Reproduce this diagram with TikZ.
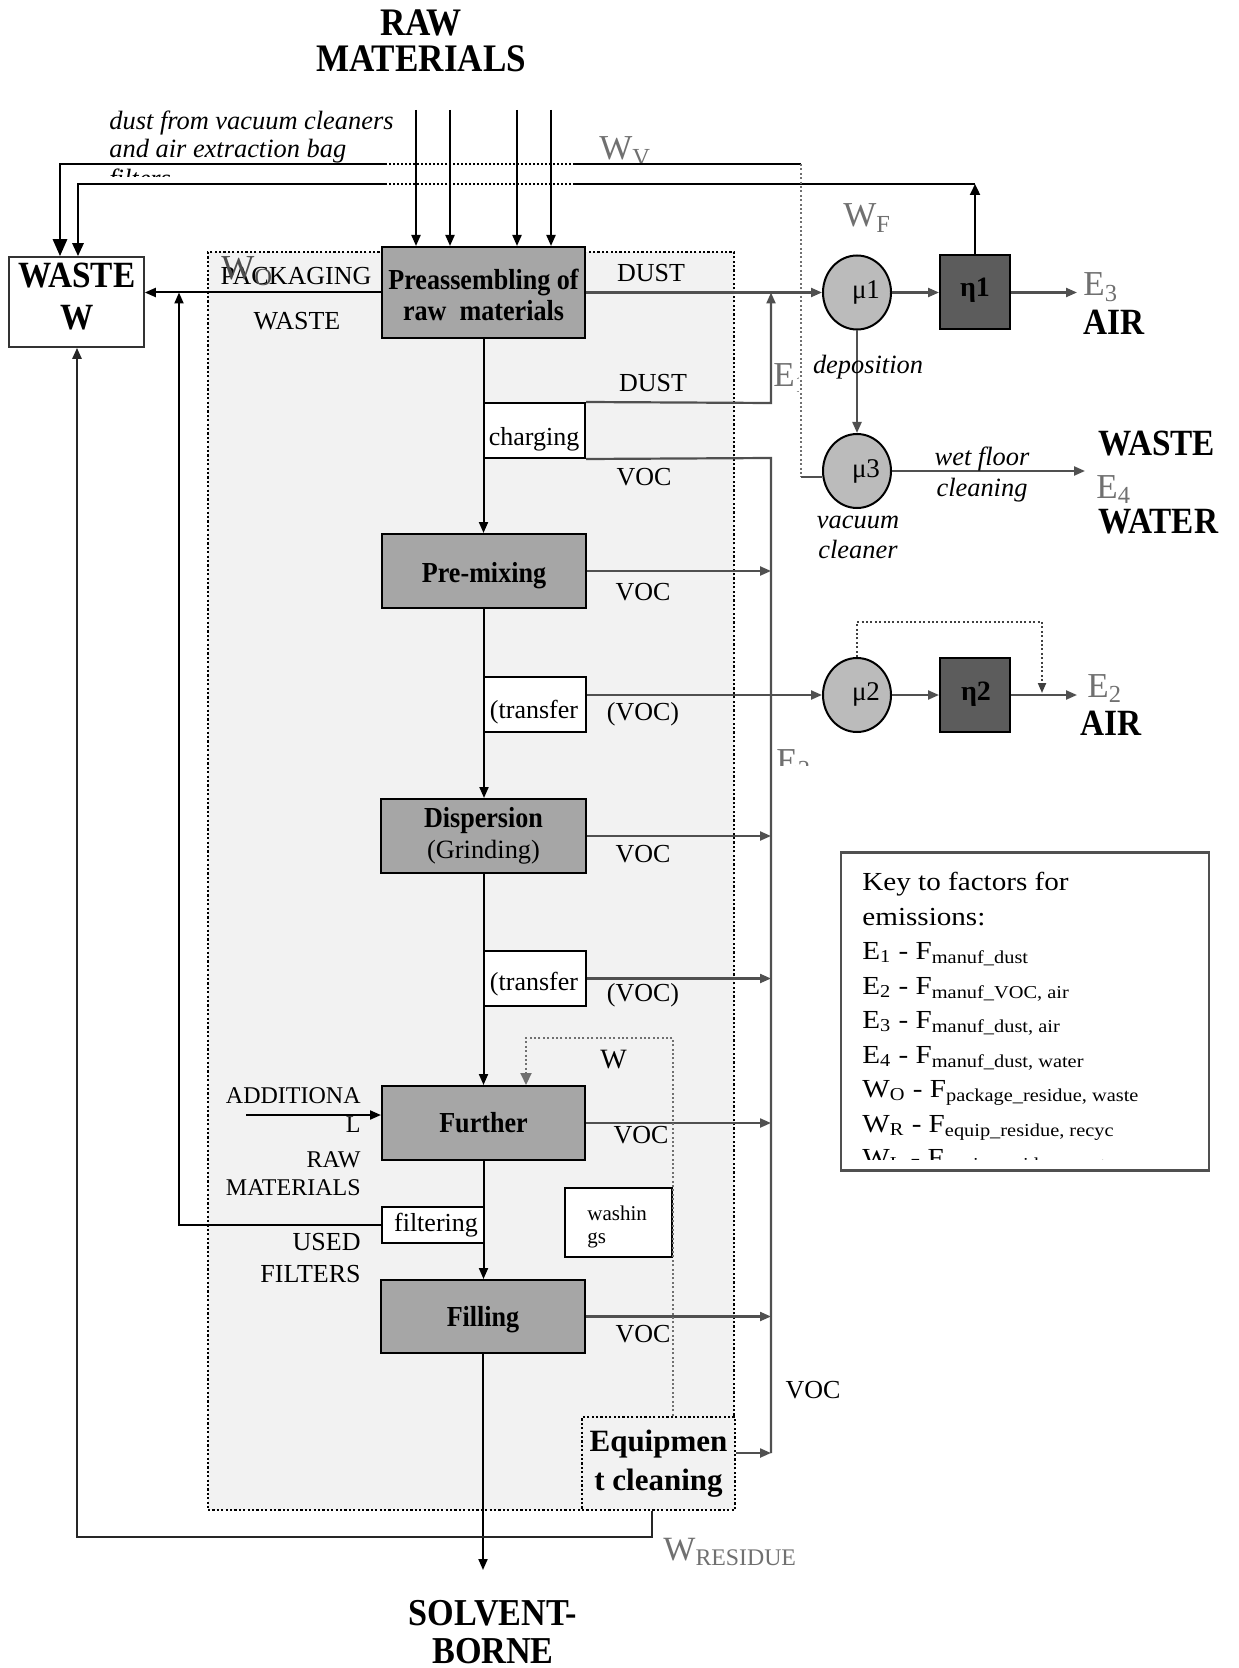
\documentclass[tikz,border=0pt]{standalone}
\usepackage{fontspec}
\setmainfont{Liberation Serif}
\newfontfamily\bcf{Liberation Serif}[FakeStretch=0.9]
\newfontfamily\keyf{Liberation Serif}[FakeStretch=1.12]
\usetikzlibrary{arrows.meta,shapes.geometric,calc}
\definecolor{regfill}{RGB}{242,242,242}
\definecolor{boxfill}{RGB}{166,166,166}
\definecolor{mufill}{RGB}{187,187,187}
\definecolor{etafill}{RGB}{92,92,92}
\definecolor{lgray}{RGB}{80,80,80}
\definecolor{tgray}{RGB}{112,112,112}
\newcommand\fsz[2]{\fontsize{#1}{#2}\selectfont}
\tikzset{
  proc/.style={draw=black, line width=1pt, fill=boxfill, inner sep=0pt, align=center, font=\bcf\bfseries\fsz{14.5}{15.5}},
  sbox/.style={draw=black, line width=1pt, fill=white, inner sep=0pt, minimum width=51pt, minimum height=27.5pt},
  muell/.style={ellipse, draw=black, line width=1pt, fill=mufill, inner sep=0pt, minimum width=34pt, minimum height=37pt},
  etabox/.style={draw=black, line width=1pt, fill=etafill, inner sep=0pt, minimum width=35pt, minimum height=37pt},
  txt/.style={inner sep=0pt, font=\fsz{13}{15}},
  gtxt/.style={inner sep=0pt, text=tgray, font=\fsz{17.5}{18}},
  bigb/.style={inner sep=0pt, font=\bcf\bfseries\fsz{18.5}{20}},
  itx/.style={inner sep=0pt, font=\itshape\fsz{13.2}{15}},
  keyt/.style={inner sep=0pt, anchor=base west, font=\keyf\fsz{13}{15}},
  gline/.style={draw=lgray, line width=1.1pt},
  garr/.style={gline, -{Triangle[length=5.5pt,width=4.5pt]}},
  barr/.style={draw=black, line width=1pt, -{Triangle[length=5.5pt,width=4.5pt]}},
  thk/.style={draw=black, line width=1.4pt},
  gdot/.style={draw=tgray, line width=0.8pt, dash pattern=on 1pt off 1.2pt},
}
\begin{document}
\begin{tikzpicture}[x=0.5pt,y=-0.5pt]
\useasboundingbox (0,0) rectangle (1238,1668);

% ---------- region ----------
\node[draw=black, line width=1.1pt, dash pattern=on 1.1pt off 1.1pt, fill=regfill, minimum width=263pt, minimum height=629pt, inner sep=0pt] (region) at (471,881) {};

% ---------- boxes ----------
\node[proc, minimum width=101.5pt, minimum height=45.5pt] (pre) at (483.5,292.5) {};
\node[draw=black!80, line width=0.8pt, fill=white, minimum width=67.5pt, minimum height=45pt, inner sep=0pt] (waste) at (76.5,302) {};
\node[sbox, minimum width=50.5pt] (chg) at (534.5,430.5) {};
\node[proc, minimum width=102pt, minimum height=37pt] (premix) at (484,571) {};
\node[sbox] (tr1) at (535,704.5) {};
\node[proc, minimum width=102.5pt, minimum height=37pt] (disp) at (483.5,836) {Dispersion\\{\normalfont\fsz{13.2}{15.5}(Grinding)}};
\node[sbox] (tr2) at (535,978.5) {};
\node[proc, minimum width=101.5pt, minimum height=37pt] (further) at (483.5,1123) {Further};
\node[sbox, minimum width=51pt, minimum height=18pt] (filt) at (433,1225) {};
\node[proc, minimum width=102pt, minimum height=36.5pt] (filling) at (483,1316.5) {};
\node[draw=black, line width=0.8pt, fill=white, minimum width=53.5pt, minimum height=34.5pt, inner sep=0pt] (wash) at (618.5,1222.5) {};
\node[draw=black, line width=1.3pt, dash pattern=on 1.1pt off 1.1pt, fill=regfill, minimum width=76.5pt, minimum height=46.5pt, inner sep=0pt, align=center, font=\bfseries\fsz{15.5}{19.5}] (equip) at (658.5,1463.5) {Equipmen\\t cleaning};

\node[muell] (mu1) at (857,292.5) {};
\node[muell] (mu3) at (857,471) {};
\node[muell] (mu2) at (857,695) {};
\node[etabox] (eta1) at (975,292.5) {};
\node[etabox] (eta2) at (975,695) {};
\node[draw=lgray, line width=1.3pt, fill=white, minimum width=184pt, minimum height=159pt, inner sep=0pt] (key) at (1025,1011.5) {};

% box labels placed at their measured baselines
\node[inner sep=0pt, anchor=base, font=\bcf\bfseries\fsz{14.5}{16}] (tpre1) at (483.5,290) {Preassembling of};
\node[inner sep=0pt, anchor=base, font=\bcf\bfseries\fsz{14.5}{16}] (tpre2) at (483.5,321) {raw~ materials};
\node[inner sep=0pt, anchor=base, font=\bcf\bfseries\fsz{14.5}{16}] (tpremix) at (484,582) {Pre-mixing};
\node[inner sep=0pt, anchor=base, font=\bcf\bfseries\fsz{14.5}{16}] (tfilling) at (483,1326) {Filling};

% ---------- raw material arrows ----------
\foreach \xx [count=\i] in {416,450,517,551} {
  \coordinate (r\i) at (\xx,110);
  \draw[barr] (r\i) -- (r\i |- pre.north);
}

% ---------- main chain ----------
\draw[barr] (pre.south) -- (pre.south |- premix.north);
\draw[barr] (premix.south) -- (premix.south |- disp.north);
\draw[barr] (disp.south) -- (disp.south |- further.north);
\draw[barr] (further.south) -- (further.south |- filling.north);
\coordinate (prodend) at (483,1570);
\draw[barr] (filling.south) -- (prodend);

% ---------- top waste lines ----------
\coordinate (la) at (801,164);
\coordinate (lad1) at (575,164);
\coordinate (lad2) at (386,164);
\coordinate (lacor) at (60,164);
\draw[thk] (la) -- (lad1);
\draw[thk, dash pattern=on 1pt off 1pt] (lad1) -- (lad2);
\draw[thk, -{Triangle[length=8.5pt,width=7pt]}] (lad2) -- (lacor) -- (lacor |- waste.north);

\coordinate (lb) at (975,184);
\coordinate (lbd1) at (575,184);
\coordinate (lbd2) at (386,184);
\coordinate (lbcor) at (78,184);
\draw[draw=black, line width=1.1pt, -{Triangle[length=5.5pt,width=5pt]}] (eta1.north) -- (lb);
\draw[thk] (lb) -- (lbd1);
\draw[thk, dash pattern=on 1pt off 1pt] (lbd1) -- (lbd2);
\draw[thk, -{Triangle[length=6.5pt,width=5.5pt]}] (lbd2) -- (lbcor) -- (lbcor |- waste.north);

% vacuum cleaner -> W_V
\draw[gdot] (la) -- (la |- mu3.190);
\draw[gline] (la |- mu3.190) -- (mu3.190);

% ---------- waste arrows ----------
\draw[barr] (pre.west) -- (pre.west -| waste.east);
\coordinate (fcor) at (179,1225);
\draw[barr] (filt.west) -- (fcor) -- (fcor |- pre.west);
\coordinate (wr1) at (652,1537);
\coordinate (wr2) at (77,1537);
\draw[draw=black!85, line width=1.2pt, -{Triangle[length=5.5pt,width=4.5pt]}] (equip.south -| wr1) -- (wr1) -- (wr2) -- (wr2 |- waste.south);
\coordinate (addin) at (246,1115);
\draw[barr] (addin) -- (addin -| further.west);

% ---------- dust / VOC lines ----------
\draw[garr] (pre.east) -- (mu1.west);
\coordinate (e1c) at (771,403);
\draw[garr] (chg.north east) -- (e1c) -- (e1c |- pre.east);
\coordinate (colltop) at (771,458);
\coordinate (collbot) at (771,1453);
\draw[gline] (chg.south east) -- (colltop) -- (collbot);
\draw[garr] (premix.east) -- (premix.east -| colltop);
\draw[garr] (tr1.east |- mu2.west) -- (mu2.west);
\draw[garr] (disp.east) -- (disp.east -| colltop);
\draw[garr] (tr2.east) -- (tr2.east -| colltop);
\draw[garr] (further.east) -- (further.east -| colltop);
\draw[garr] (filling.east) -- (filling.east -| colltop);
\draw[garr] (equip.east |- collbot) -- (collbot);

% ---------- treatment ----------
\draw[garr] (mu1.east) -- (eta1.west);
\coordinate (e3end) at (1077,292.5);
\draw[garr] (eta1.east) -- (e3end);
\draw[garr] (mu1.south) -- (mu3.north);
\coordinate (e4end) at (1085,471);
\draw[garr] (mu3.east) -- (e4end);
\draw[garr] (mu2.east) -- (eta2.west);
\coordinate (e2end) at (1077,695);
\draw[garr] (eta2.east) -- (e2end);
\coordinate (lp1) at (857,622);
\coordinate (lp2) at (1042,622);
\coordinate (lp3) at (1042,693);
\draw[draw=black!75, line width=1pt, dash pattern=on 1pt off 1.2pt, -{Triangle[length=5pt,width=4pt]}] (mu2.north) -- (lp1) -- (lp2) -- (lp3);

% W loop (equipment cleaning -> further)
\coordinate (wl1) at (673,1038);
\coordinate (wl2) at (526,1038);
\draw[gdot, line width=1pt, -{Triangle[length=6pt,width=5.5pt]}] (equip.north -| wl1) -- (wl1) -- (wl2) -- (wl2 |- further.north);

% ---------- texts ----------
\node[bigb, anchor=base, font=\bcf\bfseries\fsz{19.5}{20}] (tRaw) at (421,36) {RAW};
\node[bigb, anchor=base, font=\bcf\bfseries\fsz{19.5}{20}] (tMat) at (421,72) {MATERIALS};
\node[itx, anchor=base west] (it1) at (109,130) {dust from vacuum cleaners};
\node[itx, anchor=base west] (it2) at (109,158) {and air extraction bag};
\begin{scope}
\clip (100,160) rectangle (400,177);
\node[itx, anchor=base west] (it3) at (109,188) {filters};
\end{scope}

\begin{scope}
\clip (590,120) rectangle (700,163);
\node[gtxt, anchor=base west] (tWV) at (599,160) {W\textsubscript{V}};
\end{scope}
\node[gtxt, anchor=base west] (tWF) at (843,227) {W\textsubscript{F}};
\begin{scope}
\clip (760,340) rectangle (798,400);
\node[gtxt, anchor=base west] (tE1) at (773,387) {E\textsubscript{1}};
\end{scope}
\begin{scope}
\clip (760,735) rectangle (815,765);
\node[gtxt, anchor=base west] (tE2a) at (776,772) {E\textsubscript{2}};
\end{scope}

\node[bigb, anchor=base] (tWst) at (77,288) {WASTE};
\node[bigb, anchor=base] (tW) at (77,330) {W};

\node[txt, anchor=base] (tPack) at (296,285) {PACKAGING};
\node[txt, anchor=base] (tPW) at (297,330) {WASTE};
\node[gtxt, anchor=base west, text=black!70] (tWO) at (221,280) {W\textsubscript{O}};

\node[txt, anchor=base] (tD1) at (651,282) {DUST};
\node[txt, anchor=base] (tD2) at (653,392) {DUST};
\node[txt, anchor=base] (tV1) at (644,485) {VOC};
\node[txt, anchor=base] (tV2) at (643,600) {VOC};
\node[txt, anchor=base] (tV3) at (643,720) {(VOC)};
\node[txt, anchor=base] (tV4) at (643,862) {VOC};
\node[txt, anchor=base] (tV5) at (643,1001) {(VOC)};
\node[txt, anchor=base] (tV6) at (641,1143) {VOC};
\node[txt, anchor=base] (tV7) at (643,1342) {VOC};
\node[txt, anchor=base] (tV8) at (813,1398) {VOC};

\node[txt, anchor=base] (tchg) at (534,445) {charging};
\node[txt, anchor=base] (ttr1) at (534,718) {(transfer};
\node[txt, anchor=base] (ttr2) at (534,990) {(transfer};
\node[txt, anchor=base] (tfilt) at (436,1231) {filtering};
\node[inner sep=0pt, anchor=base west, font=\fsz{10.5}{12}] (twa1) at (587,1220) {washin};
\node[inner sep=0pt, anchor=base west, font=\fsz{10.5}{12}] (twa2) at (587,1243) {gs};
\node[inner sep=0pt, anchor=base west, font=\fsz{14}{15}] (tWR) at (600,1068) {W};

\node[inner sep=0pt, anchor=base east, font=\fsz{12}{14}] (tAdd) at (361,1103) {ADDITIONA};
\node[inner sep=0pt, anchor=base east, font=\fsz{12}{14}] (tAddL) at (361,1132) {L};
\node[inner sep=0pt, anchor=base east, font=\fsz{12}{14}] (tAddR) at (361,1167) {RAW};
\node[inner sep=0pt, anchor=base east, font=\fsz{12}{14}] (tAddM) at (361,1195) {MATERIALS};
\node[txt, anchor=base east] (tUsed) at (361,1250) {USED};
\node[txt, anchor=base east] (tFilt) at (361,1282) {FILTERS};

\node[gtxt, anchor=base west, font=\fsz{17}{18}] (tWres) at (663,1560) {W\textsubscript{RESIDUE}};
\node[bigb, anchor=base, font=\bcf\bfseries\fsz{19}{20}] (tSolv) at (493,1625) {SOLVENT-};
\node[bigb, anchor=base, font=\bcf\bfseries\fsz{19}{20}] (tBorne) at (493,1663) {BORNE};

\node[inner sep=0pt, anchor=base, font=\fsz{13.5}{15}] (tmu1) at (866,299) {μ1};
\node[inner sep=0pt, anchor=base, font=\fsz{13.5}{15}] (tmu3) at (866,477) {μ3};
\node[inner sep=0pt, anchor=base, font=\fsz{13.5}{15}] (tmu2) at (866,700) {μ2};
\node[inner sep=0pt, anchor=base, font=\bfseries\fsz{14}{15}] (teta1) at (975,297) {η1};
\node[inner sep=0pt, anchor=base, font=\bfseries\fsz{14}{15}] (teta2) at (976,700) {η2};

\node[itx, anchor=base] (tdep) at (868,374) {deposition};
\node[itx, anchor=base] (twet) at (982,466) {wet floor};
\node[itx, anchor=base] (tcln) at (982,496) {cleaning};
\node[itx, anchor=base] (tvac) at (858,528) {vacuum};
\node[itx, anchor=base] (tclr) at (858,558) {cleaner};

\node[gtxt, anchor=base west] (tE3) at (1083,296) {E\textsubscript{3}};
\node[bigb, anchor=base west] (tAir1) at (1083,335) {AIR};
\node[bigb, anchor=base west] (tWst2) at (1098,455) {WASTE};
\node[gtxt, anchor=base west] (tE4) at (1096,498) {E\textsubscript{4}};
\node[bigb, anchor=base west] (tWat) at (1098,533) {WATER};
\node[gtxt, anchor=base west] (tE2) at (1087,697) {E\textsubscript{2}};
\node[bigb, anchor=base west] (tAir2) at (1080,735) {AIR};

% ---------- key ----------
\node[keyt] (k1) at (862,890) {Key to factors for};
\node[keyt] (k2) at (862,925) {emissions:};
\node[keyt] (k3) at (862,959) {E\textsubscript{1} - F\textsubscript{manuf\_dust}};
\node[keyt] (k4) at (862,994) {E\textsubscript{2} - F\textsubscript{manuf\_VOC, air}};
\node[keyt] (k5) at (862,1028) {E\textsubscript{3} - F\textsubscript{manuf\_dust, air}};
\node[keyt] (k6) at (862,1063) {E\textsubscript{4} - F\textsubscript{manuf\_dust, water}};
\node[keyt] (k7) at (862,1097) {W\textsubscript{O} - F\textsubscript{package\_residue, waste}};
\node[keyt] (k8) at (862,1132) {W\textsubscript{R} - F\textsubscript{equip\_residue, recyc}};
\begin{scope}
\clip (850,1140) rectangle (1200,1159);
\node[keyt] (k9) at (862,1166) {W\textsubscript{L} - F\textsubscript{equip\_residue, waste}};
\end{scope}
\end{tikzpicture}
\end{document}
